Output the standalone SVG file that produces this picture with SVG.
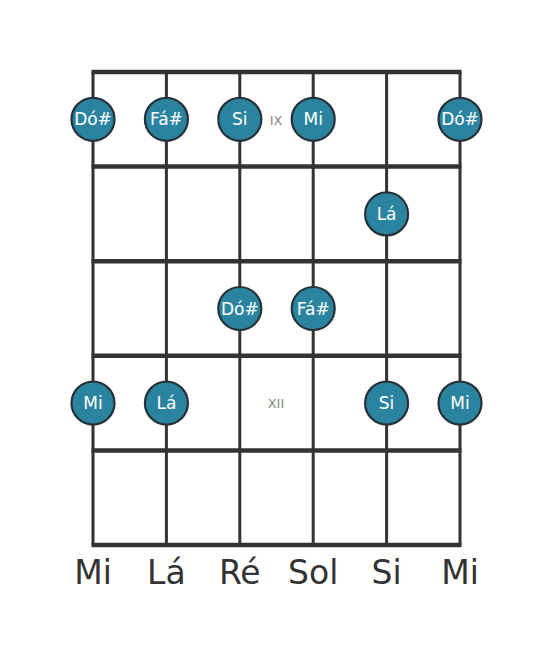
<svg xmlns="http://www.w3.org/2000/svg" width="553" height="656" viewBox="0 0 553 656">
<style>
.fret{stroke:#333;stroke-width:4.5;stroke-linecap:butt}
.str{stroke:#333;stroke-width:3}
.note circle{fill:#2b849f;stroke:#263238;stroke-width:2.2}
.note text{fill:#fff;font-family:"DejaVu Sans",sans-serif;font-size:17px;text-anchor:middle;dominant-baseline:central}
.pos{fill:#888;font-family:"DejaVu Sans",sans-serif;font-size:13px;text-anchor:middle;dominant-baseline:central}
.lbl{fill:#333;font-family:"DejaVu Sans",sans-serif;font-size:33px;text-anchor:middle}
</style>
<rect width="553" height="656" fill="#fff"/>
<g id="grid">
<line class="str" x1="93" y1="72" x2="93" y2="545"/>
<line class="str" x1="166.4" y1="72" x2="166.4" y2="545"/>
<line class="str" x1="239.8" y1="72" x2="239.8" y2="545"/>
<line class="str" x1="313.2" y1="72" x2="313.2" y2="545"/>
<line class="str" x1="386.6" y1="72" x2="386.6" y2="545"/>
<line class="str" x1="460" y1="72" x2="460" y2="545"/>
<line class="fret" x1="91.5" y1="72" x2="461.5" y2="72"/>
<line class="fret" x1="91.5" y1="166.6" x2="461.5" y2="166.6"/>
<line class="fret" x1="91.5" y1="261.2" x2="461.5" y2="261.2"/>
<line class="fret" x1="91.5" y1="355.8" x2="461.5" y2="355.8"/>
<line class="fret" x1="91.5" y1="450.4" x2="461.5" y2="450.4"/>
<line class="fret" x1="91.5" y1="545" x2="461.5" y2="545"/>
</g>
<text class="pos" x="276" y="120">IX</text>
<text class="pos" x="276" y="403.5">XII</text>
<g id="n1" class="note"><circle cx="93" cy="119.3" r="21.5"/><text x="93" y="119.3">Dó#</text></g>
<g id="n2" class="note"><circle cx="166.4" cy="119.3" r="21.5"/><text x="166.4" y="119.3">Fá#</text></g>
<g id="n3" class="note"><circle cx="239.8" cy="119.3" r="21.5"/><text x="239.8" y="119.3">Si</text></g>
<g id="n4" class="note"><circle cx="313.2" cy="119.3" r="21.5"/><text x="313.2" y="119.3">Mi</text></g>
<g id="n5" class="note"><circle cx="460" cy="119.3" r="21.5"/><text x="460" y="119.3">Dó#</text></g>
<g id="n6" class="note"><circle cx="386.6" cy="213.9" r="21.5"/><text x="386.6" y="213.9">Lá</text></g>
<g id="n7" class="note"><circle cx="239.8" cy="308.5" r="21.5"/><text x="239.8" y="308.5">Dó#</text></g>
<g id="n8" class="note"><circle cx="313.2" cy="308.5" r="21.5"/><text x="313.2" y="308.5">Fá#</text></g>
<g id="n9" class="note"><circle cx="93" cy="403.1" r="21.5"/><text x="93" y="403.1">Mi</text></g>
<g id="n10" class="note"><circle cx="166.4" cy="403.1" r="21.5"/><text x="166.4" y="403.1">Lá</text></g>
<g id="n11" class="note"><circle cx="386.6" cy="403.1" r="21.5"/><text x="386.6" y="403.1">Si</text></g>
<g id="n12" class="note"><circle cx="460" cy="403.1" r="21.5"/><text x="460" y="403.1">Mi</text></g>
<g id="labels">
<text class="lbl" x="93" y="584">Mi</text>
<text class="lbl" x="166.4" y="584">Lá</text>
<text class="lbl" x="239.8" y="584">Ré</text>
<text class="lbl" x="313.2" y="584">Sol</text>
<text class="lbl" x="386.6" y="584">Si</text>
<text class="lbl" x="460" y="584">Mi</text>
</g>
</svg>
